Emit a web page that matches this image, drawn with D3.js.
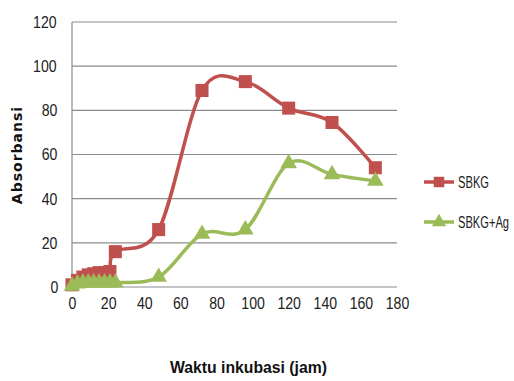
<!DOCTYPE html>
<html>
<head>
<meta charset="utf-8">
<script src="https://cdn.jsdelivr.net/npm/d3@7"></script>
<style>
  html, body { margin: 0; padding: 0; background: #fff; }
  svg { display: block; }
  /* narrow look for tick labels */
  .narrow {
    font-family: "Liberation Sans", Arial, sans-serif;
    transform-box: fill-box;
    transform-origin: center;
    transform: scaleX(0.83);
  }
</style>
</head>
<body>
<svg id="chart" width="514" height="381"></svg>
<script>
// Incubation time (hours)
const hours = [0, 3, 6, 9, 12, 15, 18, 21, 24, 48, 72, 96, 120, 144, 168];
// Absorbance readings
const sbkg   = [1, 3, 4.5, 5.5, 6, 6.5, 6.5, 7, 16, 26, 89, 93, 81, 74.5, 54];
const sbkgAg = [0.5, 1.5, 2, 2, 2, 2, 2, 2, 2, 4.5, 24, 26, 56, 51, 48];
const xTicks = [0, 20, 40, 60, 80, 100, 120, 140, 160, 180];
const yTicks = [0, 20, 40, 60, 80, 100, 120];
const seriesNames = ["SBKG", "SBKG+Ag"];
const seriesColors = ["#C0504D", "#9BBB59"];

const svg = d3.select("#chart");
const x = d3.scaleLinear().domain([0, 180]).range([72, 397]);
const y = d3.scaleLinear().domain([0, 120]).range([287, 22]);

// Horizontal gridlines
svg.append("g")
  .selectAll("line")
  .data(yTicks)
  .join("line")
  .attr("x1", x(0)).attr("x2", x(180))
  .attr("y1", d => y(d)).attr("y2", d => y(d))
  .attr("stroke", "#8c8c8c").attr("stroke-width", 1.2);

// Vertical axis line
svg.append("line")
  .attr("x1", x(0)).attr("x2", x(0))
  .attr("y1", y(120)).attr("y2", y(0))
  .attr("stroke", "#8c8c8c").attr("stroke-width", 1.2);

// Y axis labels
const yAxis = svg.append("g")
  .attr("transform", `translate(${x(0)},0)`)
  .call(d3.axisLeft(y).tickValues(yTicks).tickSize(0).tickPadding(13));
yAxis.select(".domain").remove();

// X axis labels
const xAxis = svg.append("g")
  .attr("transform", `translate(0,${y(0)})`)
  .call(d3.axisBottom(x).tickValues(xTicks).tickSize(0).tickPadding(10));
xAxis.select(".domain").remove();

svg.selectAll("g").attr("font-family", null).attr("font-size", null);
svg.selectAll(".tick text")
  .attr("class", "narrow")
  .attr("font-size", 17)
  .attr("fill", "#222");

// Axis titles
svg.append("text")
  .attr("transform", "translate(22,155) rotate(-90)")
  .attr("text-anchor", "middle")
  .attr("font-family", "DejaVu Sans, Verdana, sans-serif")
  .attr("font-weight", "bold")
  .attr("font-size", 14)
  .attr("letter-spacing", 1)
  .attr("fill", "#111")
  .text("Absorbansi");

svg.append("text")
  .attr("x", 170).attr("y", 373)
  .attr("font-family", "Liberation Sans, Arial, sans-serif")
  .attr("font-weight", "bold")
  .attr("font-size", 16)
  .attr("textLength", 157)
  .attr("lengthAdjust", "spacingAndGlyphs")
  .attr("fill", "#111")
  .text("Waktu inkubasi (jam)");

const line = d3.line()
  .x(d => x(d[0])).y(d => y(d[1]))
  .curve(d3.curveCardinal.tension(0));

const allSeries = [sbkg, sbkgAg];
const square = d3.symbol().type(d3.symbolSquare).size(170);
const triangle = d3.symbol().type(d3.symbolTriangle).size(120);

allSeries.forEach((vals, i) => {
  const pts = hours.map((h, k) => [h, vals[k]]);
  svg.append("path")
    .datum(pts)
    .attr("d", line)
    .attr("fill", "none")
    .attr("stroke", seriesColors[i])
    .attr("stroke-width", 3.5);
});

// Markers drawn after both lines
allSeries.forEach((vals, i) => {
  const pts = hours.map((h, k) => [h, vals[k]]);
  svg.append("g")
    .selectAll("path")
    .data(pts)
    .join("path")
    .attr("transform", d => `translate(${x(d[0])},${y(d[1])})`)
    .attr("d", i === 0 ? square : triangle)
    .attr("fill", seriesColors[i]);
});

// Legend
const legendY = [182, 222];
const legendTextWidth = [31, 51];
seriesNames.forEach((name, i) => {
  const g = svg.append("g").attr("transform", `translate(424,${legendY[i]})`);
  g.append("line").attr("x1", 0).attr("x2", 30).attr("y1", 0).attr("y2", 0)
    .attr("stroke", seriesColors[i]).attr("stroke-width", 3.5);
  g.append("path").attr("transform", "translate(15,0)")
    .attr("d", i === 0 ? d3.symbol().type(d3.symbolSquare).size(110)() : d3.symbol().type(d3.symbolTriangle).size(90)())
    .attr("fill", seriesColors[i]);
  g.append("text").attr("x", 34).attr("y", 0).attr("dy", "0.35em")
    .attr("font-family", "Liberation Sans, Arial, sans-serif")
    .attr("font-size", 16)
    .attr("textLength", legendTextWidth[i])
    .attr("lengthAdjust", "spacingAndGlyphs")
    .attr("fill", "#222")
    .text(name);
});
</script>
</body>
</html>
